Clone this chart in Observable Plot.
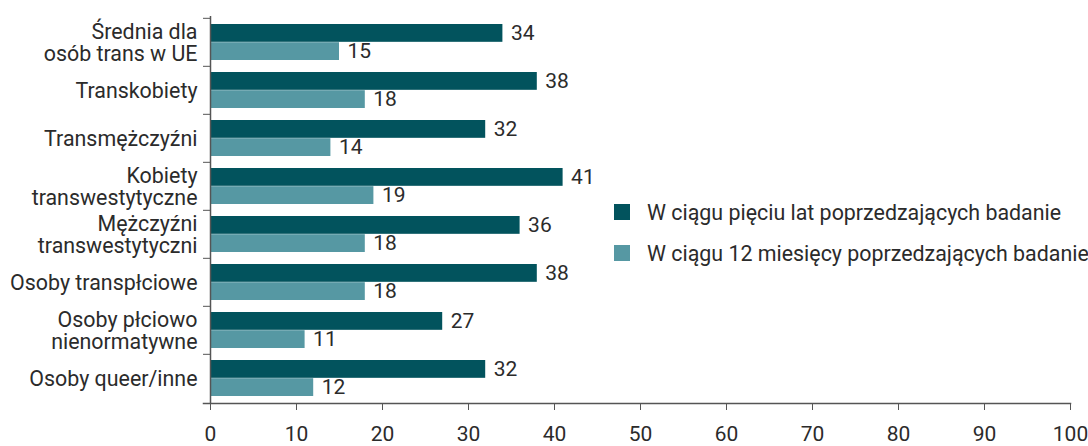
<!DOCTYPE html>
<html><head><meta charset="utf-8">
<script src="https://cdn.jsdelivr.net/npm/d3@7"></script>
<script src="https://cdn.jsdelivr.net/npm/@observablehq/plot@0.6"></script>
<style>
body{margin:0;background:#fff;font-family:Roboto,sans-serif}
#wrap{position:relative;width:1088px;height:446px}
#legend{position:absolute;left:614px;top:202px;font-family:Roboto,sans-serif;font-size:21.4px;color:#2b2b2b}
#legend .row{display:flex;align-items:center;height:20px;margin-bottom:21px;white-space:nowrap}
#legend .sw{width:16px;height:16px;margin-right:17px;flex:none}
</style></head><body><div id="wrap"></div>
<script>
const categories = ["Średnia dla\nosób trans w UE", "Transkobiety", "Transmężczyźni", "Kobiety\ntranswestytyczne", "Mężczyźni\ntranswestytyczni", "Osoby transpłciowe", "Osoby płciowo\nnienormatywne", "Osoby queer/inne"];
const series = ["W ciągu pięciu lat poprzedzających badanie", "W ciągu 12 miesięcy poprzedzających badanie"];
const fiveYears = [34, 38, 32, 41, 36, 38, 27, 32];
const twelveMonths = [15, 18, 14, 19, 18, 18, 11, 12];
const xTicks = [0, 10, 20, 30, 40, 50, 60, 70, 80, 90, 100];
const colors = ["#02535d", "#5698a3"];

const W = 1088, H = 446, mt = 16, mb = 43, ml = 210, mr = 18;
const bw = (H - mt - mb) / categories.length;
const pad = 6, barH = (bw - 2 * pad) / 2;

const d5 = categories.map((c, i) => ({category: c, value: fiveYears[i], series: series[0]}));
const d12 = categories.map((c, i) => ({category: c, value: twelveMonths[i], series: series[1]}));
const textColor = "#2b2b2b", axisColor = "#555";

const chart = Plot.plot({
  width: W, height: H,
  marginTop: mt, marginBottom: mb, marginLeft: ml, marginRight: mr,
  style: {fontFamily: "Roboto, sans-serif", fontSize: "21px", color: textColor, background: "#fff"},
  x: {domain: [0, 100], axis: null},
  y: {domain: categories, padding: 0, axis: null},
  color: {domain: series, range: colors},
  marks: [
    Plot.barX(d5, {x: "value", y: "category", fill: "series", insetTop: pad, insetBottom: pad + barH}),
    Plot.barX(d12, {x: "value", y: "category", fill: "series", insetTop: pad + barH, insetBottom: pad}),
    Plot.text(d5, {x: "value", y: "category", text: d => String(d.value), textAnchor: "start", dx: 8, dy: -barH / 2, fill: textColor, fontSize: 21}),
    Plot.text(d12, {x: "value", y: "category", text: d => String(d.value), textAnchor: "start", dx: 8, dy: barH / 2, fill: textColor, fontSize: 21}),
    Plot.ruleX([0], {stroke: axisColor, strokeWidth: 1.5}),
    Plot.frame({anchor: "bottom", stroke: axisColor, strokeWidth: 1.5, insetLeft: -7}),
    Plot.axisX({ticks: xTicks, tickSize: 7, tickPadding: 16, stroke: axisColor, fill: textColor, fontSize: 21, label: null, tickFormat: d => String(d)}),
    Plot.axisY({tickSize: 0, tickPadding: 13, fill: textColor, fontSize: 21.4, lineHeight: 1.03, label: null}),
    Plot.axisY({tickSize: 7, tickFormat: () => "", stroke: axisColor, dy: -bw / 2, label: null})
  ]
});
const wrap = document.getElementById("wrap");
wrap.appendChild(chart);
const legend = document.createElement("div");
legend.id = "legend";
const cs = chart.scale("color");
series.forEach(s => {
  const row = document.createElement("div");
  row.className = "row";
  const sw = document.createElement("div");
  sw.className = "sw";
  sw.style.background = cs.apply(s);
  const t = document.createElement("span");
  t.textContent = s;
  row.appendChild(sw); row.appendChild(t);
  legend.appendChild(row);
});
wrap.appendChild(legend);
</script></body></html>
